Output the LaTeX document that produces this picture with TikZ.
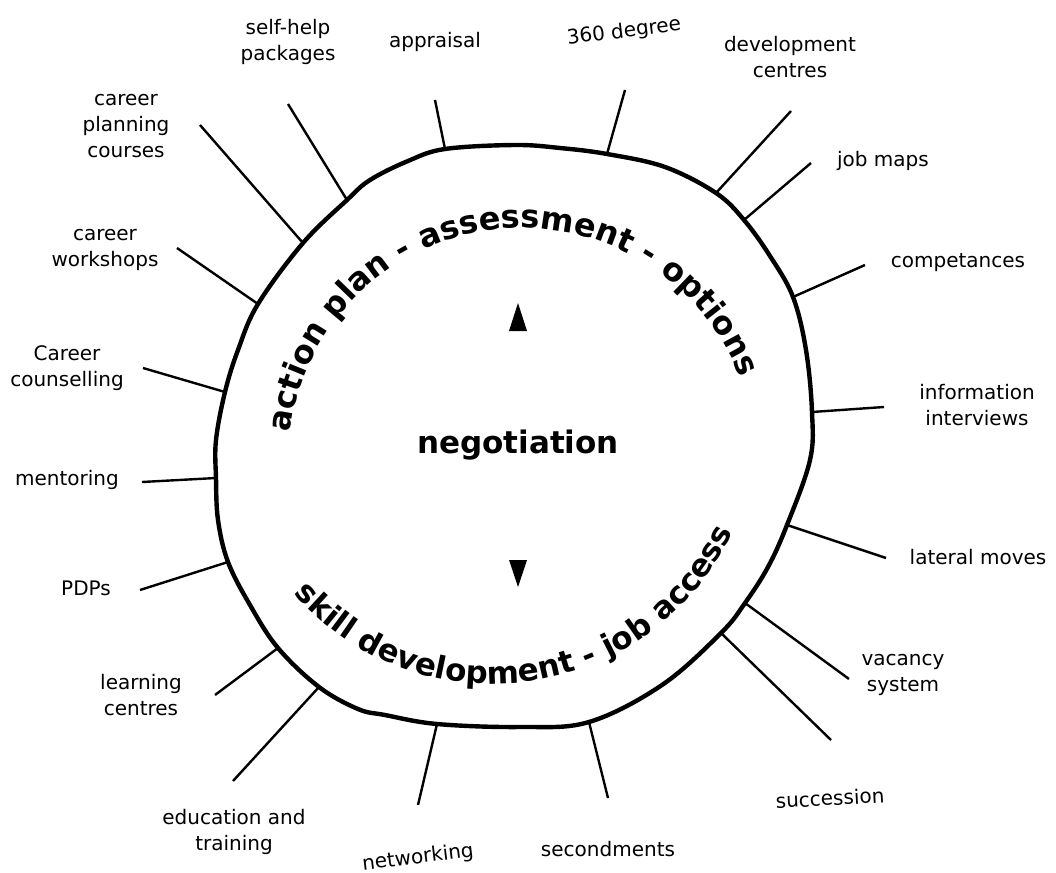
\documentclass[tikz,border=0pt]{standalone}
\usepackage{fontspec}
\setmainfont{DejaVu Sans}
\usetikzlibrary{calc,decorations.text}

\begin{document}
\begin{tikzpicture}
	[x=0.5pt,y=-0.5pt,
	every node/.style={font=\fontsize{10}{13}\selectfont,align=center,inner sep=1pt},
	spoke/.style={line width=1.2pt},
	ring/.style={line width=2.2pt,line join=round},
	arctext/.style 2 args={decorate,decoration={text along path,text align=center,
		text={|\bfseries\fontsize{#1}{18}\selectfont|#2}}}]
	\useasboundingbox (0,0) rectangle (1056,873);
	
	% spoke ends: outer end near the label, inner end on the ring
	\foreach \n/\ox/\oy/\ix/\iy in {shp/288/104/347/200, app/435/100/445/149,
		deg/625/90/607/154, dev/791/111/716/193, job/811/163/744/220,
		comp/865/265/793/297, info/884/407/812/412, lat/886/558/787/525,
		vac/849/679/745/603, succ/831/740/721/633, sec/608/798/589/722,
		net/418/805/437/724, edu/233/781/319/687, learn/215/695/278/648,
		pdp/140/590/228/562, ment/142/482/216/478, couns/143/368/225/392,
		work/177/248/258/304, plan/200/125/303/243}
	{
		\coordinate (o\n) at (\ox,\oy);
		\coordinate (i\n) at (\ix,\iy);
	}
	
	% hand drawn ring
	\draw[ring] plot[smooth cycle,tension=0.6] coordinates {(515,145) (560,148)
		(ideg) (665,167) (idev) (ijob) (770,256) (icomp) (806,350) (iinfo)
		(810,460) (ilat) (768,567) (ivac) (isucc) (662,685) (isec) (520,727)
		(inet) (385,715) (358,709) (iedu) (ilearn) (250,605) (ipdp) (218,520)
		(iment) (216,440) (icouns) (238,350) (iwork) (iplan) (ishp) (370,180)
		(408,161) (iapp)};
	
	\path
	\foreach \n in {shp,app,deg,dev,job,comp,info,lat,vac,succ,sec,net,edu,
		learn,pdp,ment,couns,work,plan}
	{
		(o\n) edge[spoke] (i\n)
	};
	
	\node (lshp) at (288,42) {self-help\\packages};
	\node (lapp) at (435,42) {appraisal};
	\node[rotate=7] (ldeg) at (624,32) {360 degree};
	\node (ldev) at (790,57) {development\\centres};
	\node (ljob) at (883,161) {job maps};
	\node (lcomp) at (958,263) {competances};
	\node (linfo) at (977,405) {information\\interviews};
	\node (llat) at (978,557) {lateral moves};
	\node (lvac) at (903,675) {vacancy\\system};
	\node[rotate=3] (lsucc) at (830,798) {succession};
	\node (lsec) at (608,849) {secondments};
	\node[rotate=7] (lnet) at (418,858) {networking};
	\node (ledu) at (234,832) {education and\\training};
	\node (llearn) at (141,695) {learning\\centres};
	\node (lpdp) at (86,588) {PDPs};
	\node (lment) at (67,480) {mentoring};
	\node (lcouns) at (67,368) {Career\\counselling};
	\node (lwork) at (105,250) {career\\workshops};
	\node (lplan) at (126,126) {career\\planning\\courses};
	
	% inside the ring
	\node[font=\bfseries\fontsize{15.5}{18}\selectfont] (neg) at (518,445) {negotiation};
	\fill (518,303) -- (527,331) -- (509,331) -- cycle;
	\fill (509,560) -- (527,560) -- (518,587) -- cycle;
	
	\coordinate (topc) at (522,462);
	\coordinate (botc) at (493,419);
	\path[arctext={16}{action plan - assessment - options}]
		($(topc)+(-187:234)$) arc[start angle=-187,end angle=-7,radius=234];
	\path[arctext={15.5}{skill development - job access}]
		($(botc)+(-198:265)$) arc[start angle=-198,end angle=-358,radius=265];
\end{tikzpicture}
\end{document}
